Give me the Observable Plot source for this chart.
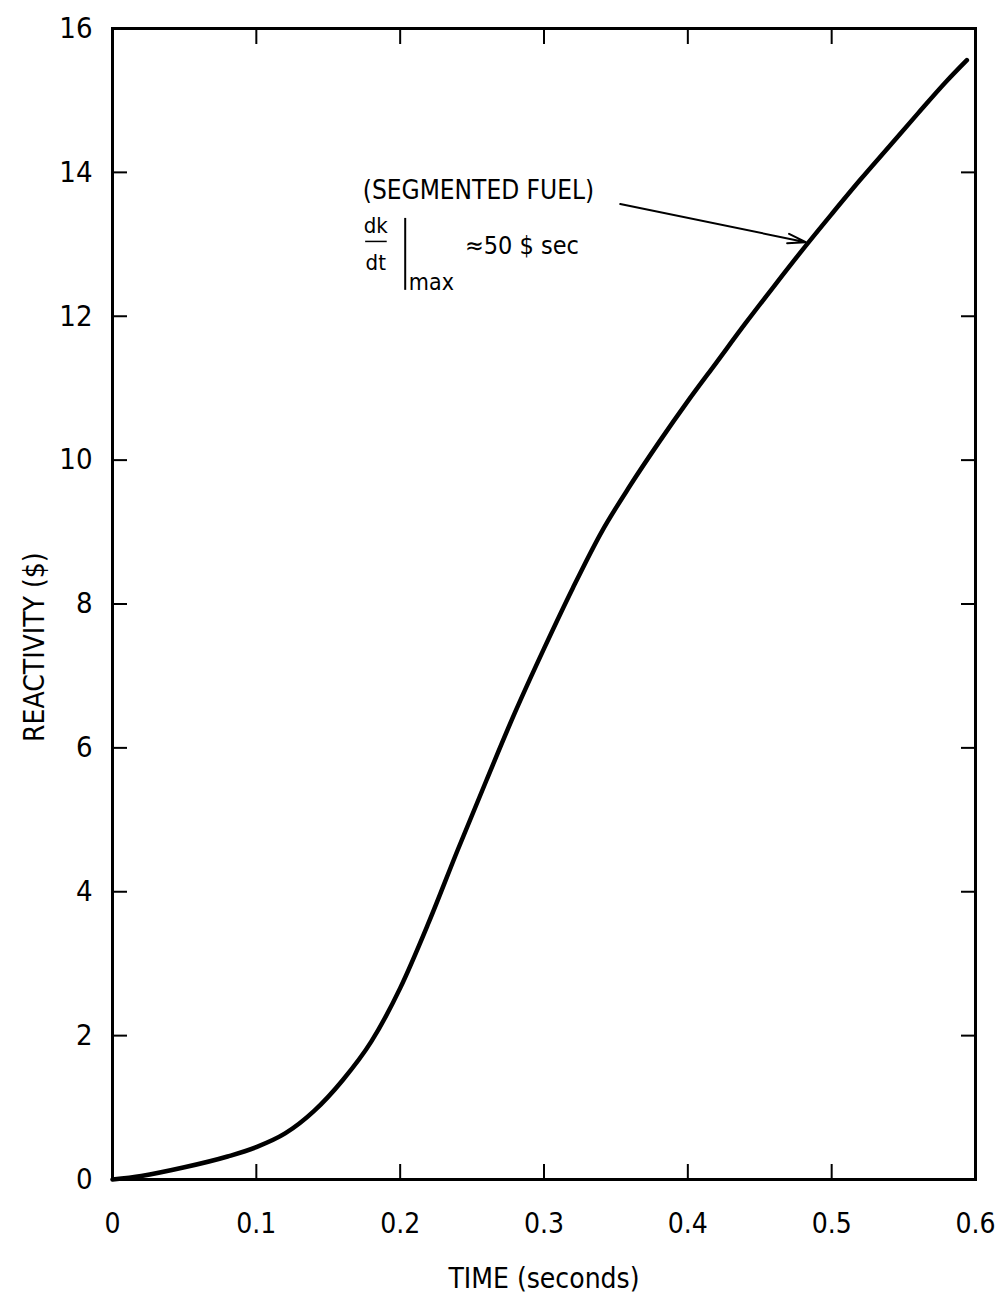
<!DOCTYPE html>
<html>
<head>
<meta charset="utf-8">
<script src="https://cdn.jsdelivr.net/npm/d3@7"></script>
<script src="https://cdn.jsdelivr.net/npm/@observablehq/plot@0.6"></script>
<style>
  html, body { margin: 0; padding: 0; background: #fff; }
  #chart { width: 1003px; height: 1301px; }
</style>
</head>
<body>
<div id="chart"></div>
<script>
// Curve: time (s) vs reactivity ($)
const timeS = [0, 0.02, 0.05, 0.08, 0.10, 0.12, 0.14, 0.16, 0.18, 0.20, 0.22, 0.24, 0.26, 0.28, 0.30, 0.32, 0.34, 0.36, 0.38, 0.40, 0.42, 0.44, 0.46, 0.48, 0.50, 0.52, 0.54, 0.56, 0.58, 0.594];
const reactivity = [0, 0.05, 0.17, 0.32, 0.45, 0.64, 0.95, 1.38, 1.92, 2.66, 3.58, 4.58, 5.55, 6.50, 7.38, 8.22, 9.00, 9.65, 10.25, 10.82, 11.36, 11.90, 12.42, 12.93, 13.42, 13.90, 14.36, 14.82, 15.27, 15.56];

const xTicks = [0, 0.1, 0.2, 0.3, 0.4, 0.5, 0.6];
const xTickLabels = ["0", "0.1", "0.2", "0.3", "0.4", "0.5", "0.6"];
const yTicks = [0, 2, 4, 6, 8, 10, 12, 14, 16];
const yTickLabels = ["0", "2", "4", "6", "8", "10", "12", "14", "16"];

const xTitle = "TIME (seconds)";
const yTitle = "REACTIVITY ($)";
const yTitlePos = [-0.054, 7.4];

// Annotation
const noteTitle = "(SEGMENTED FUEL)";
const noteTitlePos = [0.174, 13.74];
const noteDk = "dk", noteDkPos = [0.183, 13.25];
const noteDt = "dt", noteDtPos = [0.183, 12.74];
const noteMax = "max", noteMaxPos = [0.206, 12.47];
const noteRate = "≈50 $ sec", noteRatePos = [0.245, 12.98];
const fractionBar = [0.176, 0.191, 13.04];      // x1, x2, y
const evalBar = [0.2035, 12.36, 13.36];          // x, y1, y2
const arrowFrom = [0.353, 13.56];
const arrowTo = [0.482, 13.03];

const curve = timeS.map((t, i) => ({t, r: reactivity[i]}));
const FONT = "'Liberation Sans Narrow', 'DejaVu Sans Condensed', 'DejaVu Sans', sans-serif";

const chart = Plot.plot({
  width: 1003,
  height: 1301,
  marginLeft: 112,
  marginRight: 28,
  marginTop: 28,
  marginBottom: 122,
  style: {fontFamily: FONT, fontSize: "26px", color: "#000", background: "#fff"},
  x: {domain: [0, 0.6]},
  y: {domain: [0, 16]},
  marks: [
    Plot.frame({stroke: "#000", strokeWidth: 3}),
    // inward ticks on all sides
    Plot.axisX({anchor: "bottom", ticks: xTicks, tickSize: -15, strokeWidth: 2, tickFormat: () => "", label: null}),
    Plot.axisX({anchor: "top", ticks: xTicks, tickSize: -15, strokeWidth: 2, tickFormat: () => "", label: null}),
    Plot.axisY({anchor: "left", ticks: yTicks, tickSize: -15, strokeWidth: 2, tickFormat: () => "", label: null}),
    Plot.axisY({anchor: "right", ticks: yTicks, tickSize: -15, strokeWidth: 2, tickFormat: () => "", label: null}),
    // tick labels and titles
    Plot.axisX({anchor: "bottom", ticks: xTicks, tickSize: 0, tickPadding: 34,
      tickFormat: (d) => xTickLabels[xTicks.indexOf(d)], fontSize: 28,
      label: xTitle, labelAnchor: "center", labelArrow: "none", labelOffset: 108}),
    Plot.axisY({anchor: "left", ticks: yTicks, tickSize: 0, tickPadding: 20,
      tickFormat: (d) => yTickLabels[yTicks.indexOf(d)], fontSize: 29, label: null}),
    Plot.text([yTitle], {x: yTitlePos[0], y: yTitlePos[1], text: d => d, rotate: -90, fontSize: 28}),
    // curve
    Plot.line(curve, {x: "t", y: "r", stroke: "#000", strokeWidth: 4.5, curve: "monotone-x"}),
    // annotation
    Plot.text([noteTitle], {x: noteTitlePos[0], y: noteTitlePos[1], text: d => d, textAnchor: "start", fontSize: 26}),
    Plot.text([noteDk], {x: noteDkPos[0], y: noteDkPos[1], text: d => d, fontSize: 22}),
    Plot.text([noteDt], {x: noteDtPos[0], y: noteDtPos[1], text: d => d, fontSize: 22}),
    Plot.text([noteMax], {x: noteMaxPos[0], y: noteMaxPos[1], text: d => d, textAnchor: "start", fontSize: 23}),
    Plot.text([noteRate], {x: noteRatePos[0], y: noteRatePos[1], text: d => d, textAnchor: "start", fontSize: 25}),
    Plot.ruleY([fractionBar], {x1: d => d[0], x2: d => d[1], y: d => d[2], stroke: "#000", strokeWidth: 1.5}),
    Plot.ruleX([evalBar], {x: d => d[0], y1: d => d[1], y2: d => d[2], stroke: "#000", strokeWidth: 2}),
    Plot.arrow([[arrowFrom, arrowTo]], {
      x1: d => d[0][0], y1: d => d[0][1], x2: d => d[1][0], y2: d => d[1][1],
      stroke: "#000", strokeWidth: 2, headLength: 14, headAngle: 30, bend: 0
    })
  ]
});
document.getElementById("chart").appendChild(chart);
</script>
</body>
</html>
